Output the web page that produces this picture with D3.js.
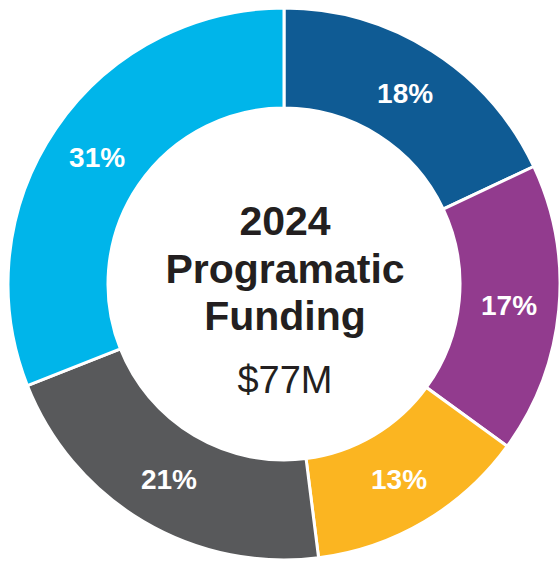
<!DOCTYPE html>
<html>
<head>
<meta charset="utf-8">
<script src="https://cdn.jsdelivr.net/npm/d3@7"></script>
<style>
  body { margin: 0; background: #fff; }
  svg { display: block; font-family: "Liberation Sans", Arial, sans-serif; }
</style>
</head>
<body>
<svg width="559" height="563"></svg>
<script>
// slices, clockwise from 12 o'clock
var categories = ["A", "B", "C", "D", "E"];
var shares = [18, 17, 13, 21, 31];
var colors = ["#0f5b94", "#923b8e", "#fbb521", "#58595b", "#00b5ea"];
var titleLines = ["2024", "Programatic", "Funding"];
var total = "$77M";

var svg = d3.select("svg");
var cx = 284, cy = 284;
var rOuter = 276, rInner = 176;

var pie = d3.pie().sort(null).value(function(d){ return d; });
var arc = d3.arc().innerRadius(rInner).outerRadius(rOuter);
var labelArc = d3.arc().innerRadius(rInner + 50).outerRadius(rInner + 50);

var g = svg.append("g").attr("transform", "translate(" + cx + "," + cy + ")");

g.selectAll("path")
  .data(pie(shares))
  .enter()
  .append("path")
  .attr("d", arc)
  .attr("fill", function(d, i){ return colors[i]; })
  .attr("stroke", "#fff")
  .attr("stroke-width", 3);

g.selectAll("text.pct")
  .data(pie(shares))
  .enter()
  .append("text")
  .attr("class", "pct")
  .attr("transform", function(d){ return "translate(" + labelArc.centroid(d) + ")"; })
  .attr("text-anchor", "middle")
  .attr("dy", "0.36em")
  .attr("fill", "#fff")
  .attr("font-weight", "bold")
  .attr("font-size", 28)
  .text(function(d){ return d.data + "%"; });

// centre title
g.selectAll("text.title")
  .data(titleLines)
  .enter()
  .append("text")
  .attr("class", "title")
  .attr("x", 1)
  .attr("y", function(d, i){ return -49 + i * 47.5; })
  .attr("text-anchor", "middle")
  .attr("fill", "#231f20")
  .attr("font-weight", "bold")
  .attr("font-size", 41)
  .text(function(d){ return d; });

g.append("text")
  .attr("x", 1)
  .attr("y", 109)
  .attr("text-anchor", "middle")
  .attr("fill", "#231f20")
  .attr("font-size", 38)
  .text(total);
</script>
</body>
</html>
